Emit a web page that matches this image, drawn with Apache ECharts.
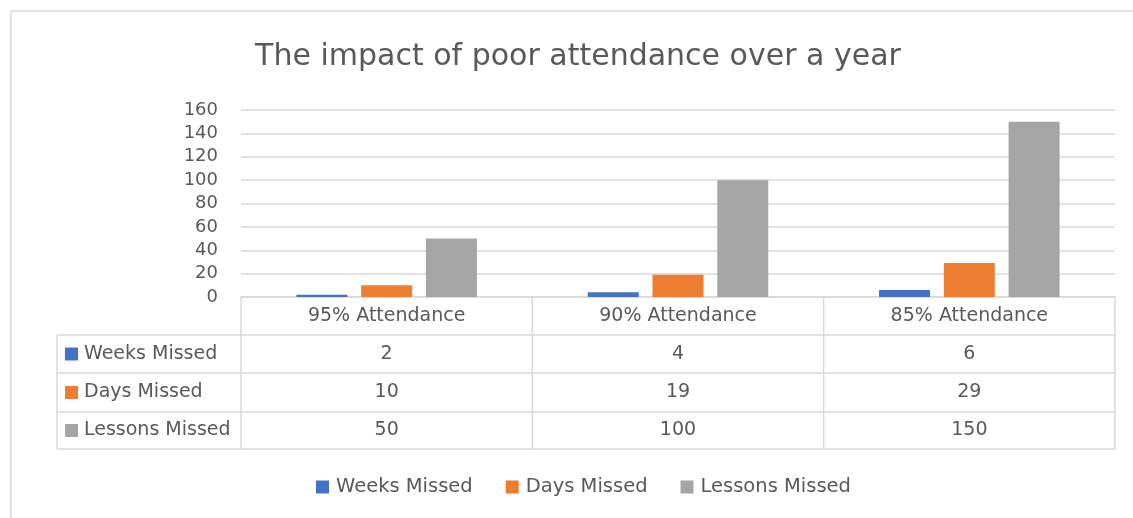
<!DOCTYPE html>
<html>
<head>
<meta charset="utf-8">
<title>The impact of poor attendance over a year</title>
<script src="https://cdn.jsdelivr.net/npm/echarts@6/dist/echarts.min.js"></script>
<style>
  html, body { margin: 0; padding: 0; background: #fff; }
  #chart { width: 1133px; height: 518px; }
</style>
</head>
<body>
<div id="chart"></div>
<script>
// 数据
const categories = ["95% Attendance", "90% Attendance", "85% Attendance"];
const seriesNames = ["Weeks Missed", "Days Missed", "Lessons Missed"];
const weeksMissed = [2, 4, 6];
const daysMissed = [10, 19, 29];
const lessonsMissed = [50, 100, 150];
const seriesValues = [weeksMissed, daysMissed, lessonsMissed];
const colors = ["#4472C4", "#ED7D31", "#A5A5A5"];

const FONT = "DejaVu Sans";
const TEXT = "#595959";
const LINE = "#D9D9D9";

// 绘图区 + 数据表布局
const gridLeft = 241, gridRight = 1115, gridTop = 110, gridBottom = 297;
const tableLeft = 57;
const rowH = [38, 38, 39, 37]; // header, 3 rows

function buildTable() {
  const els = [];
  const colW = (gridRight - gridLeft) / categories.length;
  const rowY = [gridBottom];
  rowH.forEach((h) => rowY.push(rowY[rowY.length - 1] + h));
  const bottom = rowY[rowY.length - 1];
  const lineStyle = { stroke: LINE, lineWidth: 1.5 };

  // 竖线
  for (let i = 0; i <= categories.length; i++) {
    const x = gridLeft + i * colW;
    els.push({ type: "line", shape: { x1: x, y1: gridBottom, x2: x, y2: bottom }, style: lineStyle, silent: true });
  }
  els.push({ type: "line", shape: { x1: tableLeft, y1: rowY[1], x2: tableLeft, y2: bottom }, style: lineStyle, silent: true });
  // 横线
  for (let r = 1; r < rowY.length; r++) {
    els.push({ type: "line", shape: { x1: tableLeft, y1: rowY[r], x2: gridRight, y2: rowY[r] }, style: lineStyle, silent: true });
  }
  // 行标题 + 数值
  seriesNames.forEach((name, s) => {
    const cy = (rowY[s + 1] + rowY[s + 2]) / 2;
    els.push({ type: "rect", shape: { x: 65, y: cy - 6.5, width: 13, height: 13 }, style: { fill: colors[s] }, silent: true });
    els.push({ type: "text", x: 84, y: cy, style: { text: name, fill: TEXT, font: "19px " + FONT, verticalAlign: "middle" }, silent: true });
    seriesValues[s].forEach((v, i) => {
      els.push({
        type: "text", x: gridLeft + (i + 0.5) * colW, y: cy,
        style: { text: String(v), fill: TEXT, font: "19px " + FONT, align: "center", verticalAlign: "middle" },
        silent: true,
      });
    });
  });
  // 外框
  els.push({ type: "rect", shape: { x: 11, y: 11, width: 1140, height: 540 }, style: { fill: null, stroke: LINE, lineWidth: 1.5 }, silent: true });
  return els;
}

const chart = echarts.init(document.getElementById("chart"), null, { renderer: "canvas" });

const options = {
  animation: false,
  backgroundColor: "#fff",
  title: {
    text: "The impact of poor attendance over a year",
    left: 573,
    top: 37,
    textAlign: "center",
    textStyle: { fontFamily: FONT, fontSize: 30, fontWeight: "normal", color: TEXT },
  },
  grid: {
    left: gridLeft,
    right: 1133 - gridRight,
    top: gridTop,
    bottom: 518 - gridBottom,
    containLabel: false,
  },
  legend: {
    data: seriesNames,
    left: 316,
    top: 477,
    padding: 0,
    icon: "rect",
    itemWidth: 13,
    itemHeight: 13,
    itemGap: 33,
    textStyle: { fontFamily: FONT, fontSize: 19.5, color: TEXT, padding: [0, 0, 0, 2] },
  },
  xAxis: {
    type: "category",
    data: categories,
    axisLine: { show: true, lineStyle: { color: LINE, width: 1.5 } },
    axisTick: { show: false },
    axisLabel: { margin: 10, fontFamily: FONT, fontSize: 19, color: TEXT },
  },
  yAxis: {
    type: "value",
    min: 0,
    max: 160,
    interval: 20,
    axisLine: { show: false },
    axisTick: { show: false },
    axisLabel: { margin: 23, fontFamily: FONT, fontSize: 18, color: TEXT },
    splitLine: { lineStyle: { color: LINE, width: 1.5 } },
  },
  series: seriesNames.map((name, s) => ({
    name: name,
    type: "bar",
    data: seriesValues[s],
    barWidth: 51,
    barGap: "27%",
    itemStyle: { color: colors[s] },
  })),
  graphic: buildTable(),
};

chart.setOption(options);
</script>
</body>
</html>
